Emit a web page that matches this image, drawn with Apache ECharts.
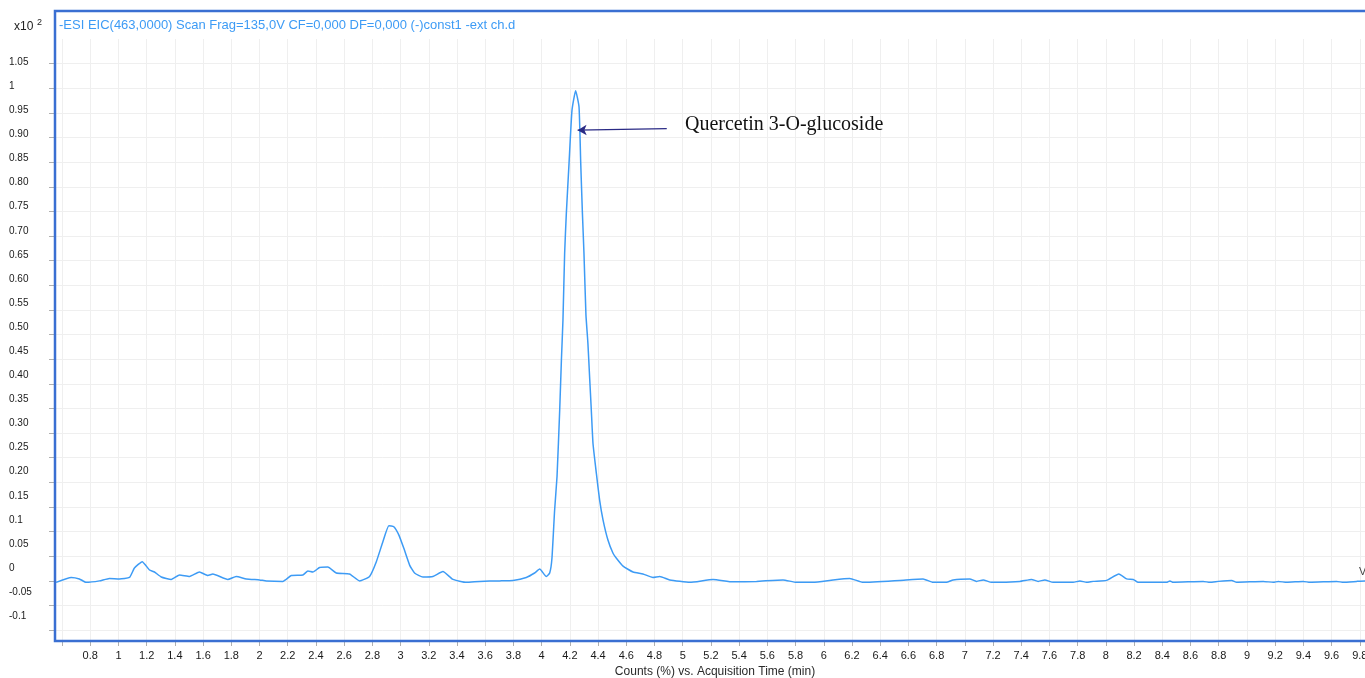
<!DOCTYPE html>
<html>
<head>
<meta charset="utf-8">
<script src="https://cdn.jsdelivr.net/npm/echarts@6/dist/echarts.min.js"></script>
<style>
html,body{margin:0;padding:0;background:#fff;}
#chart{width:1365px;height:678px;}
</style>
</head>
<body>
<div id="chart"></div>
<script>
// Acquisition time (min)
const times = [0.558,0.665,0.723,0.771,0.865,0.936,1.007,1.078,1.113,1.168,1.220,1.255,1.303,1.374,1.433,1.504,1.574,1.633,1.669,1.775,1.835,1.906,2.000,2.048,2.165,2.225,2.307,2.343,2.378,2.426,2.484,2.544,2.638,2.709,2.780,2.828,2.875,2.917,2.952,2.988,3.023,3.064,3.099,3.158,3.229,3.300,3.371,3.466,3.560,3.702,3.797,3.891,3.950,3.986,4.033,4.057,4.073,4.092,4.109,4.128,4.140,4.151,4.163,4.175,4.194,4.215,4.241,4.265,4.277,4.289,4.300,4.314,4.328,4.340,4.352,4.364,4.388,4.411,4.435,4.470,4.506,4.530,4.577,4.648,4.718,4.789,4.837,4.908,5.050,5.215,5.357,5.523,5.711,5.806,5.924,6.066,6.184,6.279,6.539,6.704,6.775,6.870,6.917,7.035,7.083,7.130,7.189,7.390,7.473,7.520,7.567,7.626,7.768,7.816,7.863,7.910,8.005,8.092,8.147,8.194,8.229,8.430,8.454,8.477,8.690,8.738,8.797,8.892,8.927,9.116,9.187,9.222,9.282,9.400,9.447,9.637,9.684,9.778,9.837,9.950];
// Counts (x10^2 %)
const counts = [-0.003,0.007,0.004,-0.003,0.000,0.005,0.004,0.007,0.026,0.039,0.022,0.018,0.008,0.003,0.012,0.009,0.018,0.011,0.014,0.003,0.009,0.004,0.002,0.000,-0.001,0.011,0.012,0.020,0.018,0.027,0.028,0.016,0.014,0.000,0.009,0.039,0.080,0.112,0.110,0.093,0.066,0.032,0.016,0.008,0.009,0.019,0.003,-0.003,-0.001,0.000,0.001,0.007,0.016,0.024,0.009,0.016,0.046,0.144,0.212,0.347,0.448,0.529,0.665,0.746,0.847,0.955,0.995,0.962,0.848,0.746,0.665,0.540,0.482,0.414,0.347,0.279,0.218,0.164,0.124,0.083,0.056,0.046,0.030,0.018,0.014,0.007,0.009,0.002,-0.003,0.003,-0.002,-0.001,0.002,-0.003,-0.003,0.002,0.005,-0.003,0.001,0.004,-0.003,-0.003,0.002,0.004,-0.001,0.002,-0.003,-0.001,0.003,-0.001,0.002,-0.003,-0.003,0.000,-0.003,-0.001,0.001,0.014,0.004,0.003,-0.003,-0.003,0.000,-0.003,-0.001,-0.003,-0.001,0.001,-0.003,-0.001,-0.003,-0.001,-0.003,-0.001,-0.003,-0.001,-0.003,-0.001,0.000,0.000];

const xTickValues = [0.6,0.8,1,1.2,1.4,1.6,1.8,2,2.2,2.4,2.6,2.8,3,3.2,3.4,3.6,3.8,4,4.2,4.4,4.6,4.8,5,5.2,5.4,5.6,5.8,6,6.2,6.4,6.6,6.8,7,7.2,7.4,7.6,7.8,8,8.2,8.4,8.6,8.8,9,9.2,9.4,9.6,9.8];
const xLabelValues = [0.8,1,1.2,1.4,1.6,1.8,2,2.2,2.4,2.6,2.8,3,3.2,3.4,3.6,3.8,4,4.2,4.4,4.6,4.8,5,5.2,5.4,5.6,5.8,6,6.2,6.4,6.6,6.8,7,7.2,7.4,7.6,7.8,8,8.2,8.4,8.6,8.8,9,9.2,9.4,9.6,9.8];
const yTickValues = [-0.1,-0.05,0,0.05,0.1,0.15,0.2,0.25,0.3,0.35,0.4,0.45,0.5,0.55,0.6,0.65,0.7,0.75,0.8,0.85,0.9,0.95,1,1.05];
const yTickLabels = ['-0.1','-0.05','0','0.05','0.1','0.15','0.20','0.25','0.30','0.35','0.40','0.45','0.50','0.55','0.60','0.65','0.70','0.75','0.80','0.85','0.90','0.95','1','1.05'];

const peakLabel = 'Quercetin 3-O-glucoside';
const arrowFrom = [4.887, 0.918];
const arrowTo = [4.255, 0.915];
const titleText = '-ESI EIC(463,0000) Scan Frag=135,0V CF=0,000 DF=0,000 (-)const1 -ext ch.d';
const xName = 'Counts (%) vs. Acquisition Time (min)';

const seriesData = times.map((t, i) => [t, counts[i]]);

// Layout only: in the original picture the y labels sit progressively above their ticks
const labelFont = {fontSize: 10, color: '#1a1a1a', fontFamily: 'Liberation Sans, Arial, sans-serif'};
const yRich = {};
yTickValues.forEach((v, i) => {
  const k = yTickValues.length - 1 - i; // 0 at top
  const lift = 1.5 + 0.54 * k;
  yRich['r' + i] = Object.assign({padding: [0, 0, 2 * lift, 0]}, labelFont);
});

const chart = echarts.init(document.getElementById('chart'), null, {renderer: 'canvas'});
const gridCol = '#efefef';
chart.setOption({
  animation: false,
  backgroundColor: '#ffffff',
  grid: {left: 55, width: 1333, top: 39, height: 601, containLabel: false, outerBoundsMode: 'none'},
  xAxis: {
    type: 'value', min: 0.55, max: 10,
    axisLine: {show: false, onZero: false},
    axisTick: {show: true, customValues: xTickValues, length: 6, lineStyle: {color: '#b0b0b0'}},
    axisLabel: {customValues: xLabelValues, margin: 10, color: '#1a1a1a', fontSize: 11,
      fontFamily: 'Liberation Sans, Arial, sans-serif'},
    splitLine: {show: true, lineStyle: {color: gridCol, width: 1}}
  },
  yAxis: {
    type: 'value', min: -0.12, max: 1.1,
    axisLine: {show: false, onZero: false},
    axisTick: {show: true, customValues: yTickValues, length: 6, lineStyle: {color: '#b0b0b0'}},
    axisLabel: Object.assign({customValues: yTickValues, margin: 46, align: 'left', rich: yRich,
      formatter: function (v) {
        for (let i = 0; i < yTickValues.length; i++) {
          if (Math.abs(yTickValues[i] - v) < 1e-6) return '{r' + i + '|' + yTickLabels[i] + '}';
        }
        return '';
      }}, labelFont),
    splitLine: {show: true, lineStyle: {color: gridCol, width: 1}}
  },
  series: [{
    type: 'line',
    data: seriesData,
    showSymbol: false,
    smooth: 0.15,
    lineStyle: {color: '#3d9bf5', width: 1.5},
    z: 3,
    markLine: {
      silent: true,
      symbol: ['none', 'arrow'],
      symbolSize: [8, 9],
      label: {show: false},
      lineStyle: {color: '#2a2a85', width: 1.3, type: 'solid'},
      data: [[{coord: arrowFrom}, {coord: arrowTo}]]
    }
  }],
  graphic: [
    {type: 'rect', z: 50, silent: true,
      shape: {x: 55, y: 11, width: 1340, height: 630},
      style: {fill: 'none', stroke: '#3a6fd2', lineWidth: 2.5}},
    {type: 'text', z: 60, left: 59, top: 19,
      style: {text: titleText, fill: '#3d9bf5', font: '13px "Liberation Sans", Arial, sans-serif'}},
    {type: 'text', z: 60, left: 14, top: 21,
      style: {text: 'x10', fill: '#222', font: '12px "Liberation Sans", Arial, sans-serif'}},
    {type: 'text', z: 60, left: 37, top: 18,
      style: {text: '2', fill: '#222', font: '9px "Liberation Sans", Arial, sans-serif'}},
    {type: 'text', z: 60, x: 715, y: 672,
      style: {text: xName, fill: '#2a2a2a', font: '12px "Liberation Sans", Arial, sans-serif', align: 'center', verticalAlign: 'middle'}},
    {type: 'text', z: 60, x: 685, y: 125,
      style: {text: peakLabel, fill: '#111', font: '20px "Liberation Serif", "DejaVu Serif", serif', align: 'left', verticalAlign: 'middle'}},
    {type: 'text', z: 60, x: 1359, y: 572,
      style: {text: 'V', fill: '#444', font: '11px "Liberation Sans", Arial, sans-serif', align: 'left', verticalAlign: 'middle'}}
  ]
});
</script>
</body>
</html>
